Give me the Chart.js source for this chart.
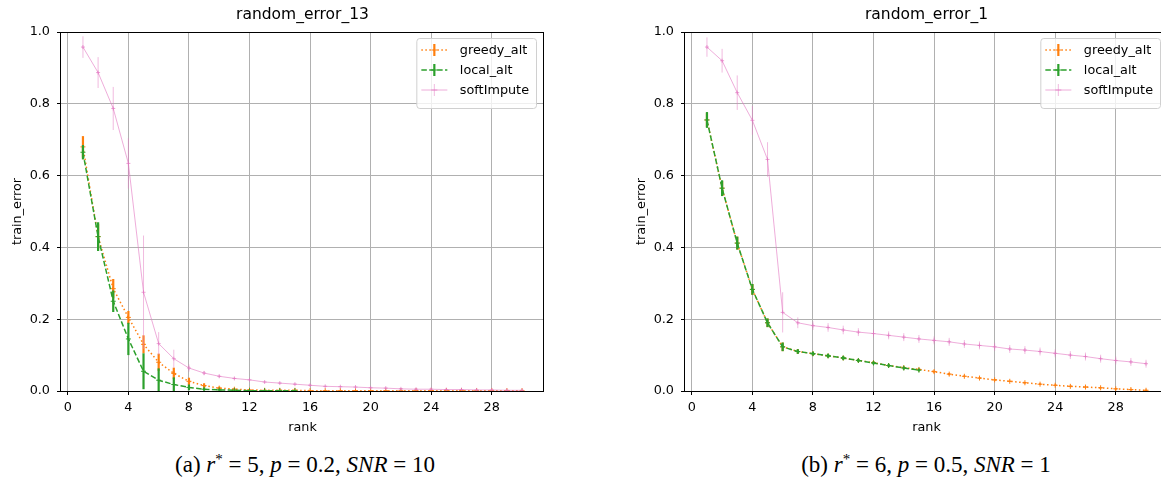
<!DOCTYPE html>
<html>
<head>
<meta charset="utf-8">
<script src="https://cdn.jsdelivr.net/npm/chart.js@4"></script>
<style>
  html, body { margin: 0; padding: 0; background: #fff; overflow: hidden; width: 1161px; height: 486px; }
  .panel { position: absolute; top: 0; }
  .caption { position: absolute; top: 452px; line-height: 26px; font-family: 'Liberation Serif', serif; font-size: 23px; white-space: nowrap; transform: translateX(-50%); color: #000; }
  .caption sup { font-size: 15px; vertical-align: 8px; line-height: 0; }
</style>
</head>
<body>
<canvas id="chartLeft" class="panel" width="605" height="440" style="left:0px"></canvas>
<canvas id="chartRight" class="panel" width="605" height="440" style="left:624px"></canvas>
<div class="caption" style="left:305px">(a) <i>r</i><sup>*</sup> = 5, <i>p</i> = 0.2, <i>SNR</i> = 10</div>
<div class="caption" style="left:926px">(b) <i>r</i><sup>*</sup> = 6, <i>p</i> = 0.5, <i>SNR</i> = 1</div>
<script>
// x values
const ranks = [1, 2, 3, 4, 5, 6, 7, 8, 9, 10, 11, 12, 13, 14, 15, 16, 17, 18, 19, 20, 21, 22, 23, 24, 25, 26, 27, 28, 29, 30];
const ranksLocal = [1, 2, 3, 4, 5, 6, 7, 8, 9, 10, 11, 12, 13, 14, 15];
const xTicks = [0, 4, 8, 12, 16, 20, 24, 28];
const yTicks = [0, 0.2, 0.4, 0.6, 0.8, 1.0];

// (a) random_error_13
const greedyLeft = [0.680, 0.430, 0.285, 0.205, 0.130, 0.080, 0.049, 0.027, 0.015, 0.008, 0.005, 0.003, 0.002, 0.002, 0.002, 0.001, 0.001, 0.001, 0.001, 0.001, 0.001, 0.001, 0.001, 0.001, 0.001, 0.001, 0.001, 0.001, 0.001, 0.001];
const greedyLeftErr = [0.030, 0.035, 0.027, 0.018, 0.025, 0.024, 0.016, 0.010, 0.006, 0.004, 0.002, 0.001, 0.001, 0.001, 0.001, 0.001, 0.001, 0.001, 0.001, 0.001, 0.001, 0.001, 0.001, 0.001, 0.001, 0.001, 0.001, 0.001, 0.001, 0.001];
const localLeft = [0.665, 0.430, 0.250, 0.145, 0.055, 0.030, 0.018, 0.010, 0.005, 0.003, 0.002, 0.001, 0.001, 0.001, 0.001];
const localLeftErr = [0.020, 0.040, 0.030, 0.045, 0.050, 0.033, 0.020, 0.008, 0.004, 0.002, 0.001, 0.001, 0.001, 0.001, 0.001];
const softLeft = [0.958, 0.887, 0.787, 0.634, 0.275, 0.132, 0.090, 0.064, 0.050, 0.041, 0.035, 0.031, 0.025, 0.022, 0.019, 0.016, 0.013, 0.012, 0.011, 0.009, 0.008, 0.006, 0.005, 0.005, 0.004, 0.004, 0.003, 0.003, 0.002, 0.002];
const softLeftErr = [0.030, 0.043, 0.060, 0.070, 0.158, 0.032, 0.025, 0.010, 0.006, 0.004, 0.003, 0.003, 0.002, 0.002, 0.002, 0.002, 0.002, 0.002, 0.002, 0.002, 0.002, 0.002, 0.002, 0.002, 0.002, 0.002, 0.002, 0.002, 0.002, 0.002];

// (b) random_error_1
const greedyRight = [0.755, 0.565, 0.412, 0.283, 0.190, 0.123, 0.110, 0.104, 0.098, 0.092, 0.085, 0.079, 0.071, 0.065, 0.060, 0.054, 0.047, 0.041, 0.036, 0.031, 0.027, 0.023, 0.019, 0.016, 0.013, 0.011, 0.009, 0.006, 0.004, 0.002];
const greedyRightErr = [0.020, 0.020, 0.018, 0.015, 0.012, 0.012, 0.006, 0.005, 0.004, 0.004, 0.004, 0.004, 0.003, 0.003, 0.003, 0.003, 0.003, 0.002, 0.002, 0.002, 0.002, 0.002, 0.002, 0.002, 0.002, 0.002, 0.002, 0.002, 0.002, 0.002];
const localRight = [0.755, 0.565, 0.412, 0.283, 0.190, 0.123, 0.110, 0.104, 0.098, 0.092, 0.085, 0.078, 0.071, 0.064, 0.058];
const localRightErr = [0.022, 0.022, 0.018, 0.015, 0.012, 0.012, 0.006, 0.005, 0.005, 0.005, 0.004, 0.004, 0.004, 0.004, 0.003];
const softRight = [0.958, 0.920, 0.831, 0.754, 0.645, 0.219, 0.190, 0.182, 0.177, 0.170, 0.164, 0.160, 0.155, 0.150, 0.145, 0.141, 0.137, 0.131, 0.127, 0.123, 0.117, 0.114, 0.110, 0.105, 0.100, 0.096, 0.090, 0.085, 0.081, 0.076];
const softRightErr = [0.027, 0.033, 0.048, 0.040, 0.048, 0.056, 0.015, 0.012, 0.012, 0.012, 0.011, 0.011, 0.011, 0.011, 0.011, 0.011, 0.011, 0.011, 0.011, 0.011, 0.011, 0.011, 0.011, 0.011, 0.011, 0.011, 0.011, 0.011, 0.011, 0.011];

const FONT = 'DejaVu Sans';
const TXT = 12.8;
Chart.defaults.font.family = FONT;
Chart.defaults.font.size = TXT;
Chart.defaults.color = '#000';

// vertical error bars, drawn right after each dataset
const errorBars = {
  id: 'errorBars',
  afterDatasetDraw(chart, args) {
    const ds = chart.data.datasets[args.index];
    if (!ds.errors) return;
    const { ctx, chartArea, scales: { x, y } } = chart;
    ctx.save();
    ctx.beginPath();
    ctx.rect(chartArea.left, chartArea.top, chartArea.width, chartArea.height);
    ctx.clip();
    ctx.strokeStyle = ds.errorColor;
    ctx.lineWidth = ds.errorWidth;
    ds.data.forEach((p, i) => {
      const px = x.getPixelForValue(p.x);
      ctx.beginPath();
      ctx.moveTo(px, y.getPixelForValue(p.y - ds.errors[i]));
      ctx.lineTo(px, y.getPixelForValue(p.y + ds.errors[i]));
      ctx.stroke();
    });
    ctx.restore();
  }
};

// box round the plot, like matplotlib spines
const spines = {
  id: 'spines',
  afterDatasetsDraw(chart) {
    const { ctx, chartArea: a } = chart;
    ctx.save();
    ctx.strokeStyle = '#000';
    ctx.lineWidth = 1;
    ctx.strokeRect(Math.round(a.left) - 0.5, Math.round(a.top) + 0.5, Math.round(a.width), Math.round(a.height));
    ctx.restore();
  }
};

// legend in the upper right corner of the plot
const insideLegend = {
  id: 'insideLegend',
  afterDraw(chart) {
    const { ctx, chartArea } = chart;
    const sets = chart.data.datasets;
    ctx.save();
    ctx.font = TXT + 'px "' + FONT + '"';
    const maxW = Math.max(...sets.map(d => ctx.measureText(d.label).width));
    const handle = 26, rowH = 20;
    const w = 5 + handle + 12.5 + maxW + 7;
    const h = sets.length * rowH + 10;
    const x0 = chartArea.right - 8 - w;
    const y0 = chartArea.top + 6;
    ctx.beginPath();
    ctx.roundRect(x0 + 0.5, y0 + 0.5, w, h, 3);
    ctx.fillStyle = 'rgba(255,255,255,0.8)';
    ctx.fill();
    ctx.strokeStyle = '#d0d0d0';
    ctx.lineWidth = 1;
    ctx.stroke();
    sets.forEach((d, i) => {
      const cy = y0 + 12 + i * rowH;
      const lx = x0 + 5;
      const mx = lx + handle / 2;
      ctx.setLineDash(d.borderDash || []);
      ctx.strokeStyle = d.borderColor;
      ctx.lineWidth = d.borderWidth;
      ctx.beginPath();
      ctx.moveTo(lx, cy);
      ctx.lineTo(lx + handle, cy);
      ctx.stroke();
      ctx.setLineDash([]);
      ctx.strokeStyle = d.errorColor;
      ctx.lineWidth = d.errorWidth;
      ctx.beginPath();
      ctx.moveTo(mx, cy - 6);
      ctx.lineTo(mx, cy + 6);
      ctx.stroke();
      ctx.strokeStyle = d.pointBorderColor;
      ctx.lineWidth = 1;
      ctx.beginPath();
      ctx.moveTo(mx - 3, cy);
      ctx.lineTo(mx + 3, cy);
      ctx.stroke();
      ctx.fillStyle = '#000';
      ctx.textBaseline = 'middle';
      ctx.fillText(d.label, lx + handle + 12.5, cy + 1);
    });
    ctx.restore();
  }
};

function points(xs, ys) {
  return xs.map((v, i) => ({ x: v, y: ys[i] }));
}

function series(label, xs, ys, errs, style) {
  return Object.assign({
    label: label,
    data: points(xs, ys),
    errors: errs,
    fill: false,
    tension: 0,
    pointStyle: 'cross',
    pointBorderWidth: 1,
    pointHoverRadius: 0
  }, style);
}

const greedyStyle = {
  borderColor: '#ff7f0e', borderWidth: 1.5, borderDash: [1.5, 2.5],
  pointRadius: 2.5, pointBorderColor: '#ff7f0e',
  errorColor: '#ff7f0e', errorWidth: 2.2, order: 3
};
const localStyle = {
  borderColor: '#2ca02c', borderWidth: 1.5, borderDash: [5.5, 2.4],
  pointRadius: 2.5, pointBorderColor: '#2ca02c',
  errorColor: '#2ca02c', errorWidth: 2.2, order: 2
};
const softStyle = {
  borderColor: 'rgba(227,119,194,0.6)', borderWidth: 1,
  pointRadius: 2, pointBorderColor: 'rgba(227,119,194,0.7)',
  errorColor: 'rgba(227,119,194,0.5)', errorWidth: 1, order: 1
};

function axisGrid() {
  return { color: '#b0b0b0', lineWidth: 1, tickLength: 4, tickColor: '#000' };
}

function makeChart(id, title, datasets) {
  return new Chart(document.getElementById(id), {
    type: 'line',
    data: { datasets: datasets },
    options: {
      responsive: false,
      animation: false,
      events: [],
      layout: { padding: { left: 0, right: 61, top: 0, bottom: 0 } },
      plugins: {
        legend: { display: false },
        tooltip: { enabled: false },
        title: {
          display: true, text: title, color: '#000', fullSize: false,
          font: { size: 15.5, weight: 'normal' },
          padding: { top: 6, bottom: 7.4 }
        }
      },
      scales: {
        x: {
          type: 'linear', min: -0.45, max: 31.45,
          afterBuildTicks: s => { s.ticks = xTicks.map(v => ({ value: v })); },
          ticks: { callback: v => String(v), padding: 5, maxRotation: 0, autoSkip: false },
          grid: axisGrid(),
          border: { display: false },
          title: { display: true, text: 'rank', padding: { top: 0, bottom: 5 } },
          afterFit: s => { s.height = 49; }
        },
        y: {
          type: 'linear', min: 0, max: 1,
          afterBuildTicks: s => { s.ticks = yTicks.map(v => ({ value: v })); },
          ticks: { callback: v => v.toFixed(1), padding: 7 },
          grid: axisGrid(),
          border: { display: false },
          title: { display: true, text: 'train_error', padding: { top: 10, bottom: 0 } },
          afterFit: s => { s.width = 61; }
        }
      }
    },
    plugins: [errorBars, spines, insideLegend]
  });
}

makeChart('chartLeft', 'random_error_13', [
  series('greedy_alt', ranks, greedyLeft, greedyLeftErr, greedyStyle),
  series('local_alt', ranksLocal, localLeft, localLeftErr, localStyle),
  series('softImpute', ranks, softLeft, softLeftErr, softStyle)
]);

makeChart('chartRight', 'random_error_1', [
  series('greedy_alt', ranks, greedyRight, greedyRightErr, greedyStyle),
  series('local_alt', ranksLocal, localRight, localRightErr, localStyle),
  series('softImpute', ranks, softRight, softRightErr, softStyle)
]);
</script>
</body>
</html>
